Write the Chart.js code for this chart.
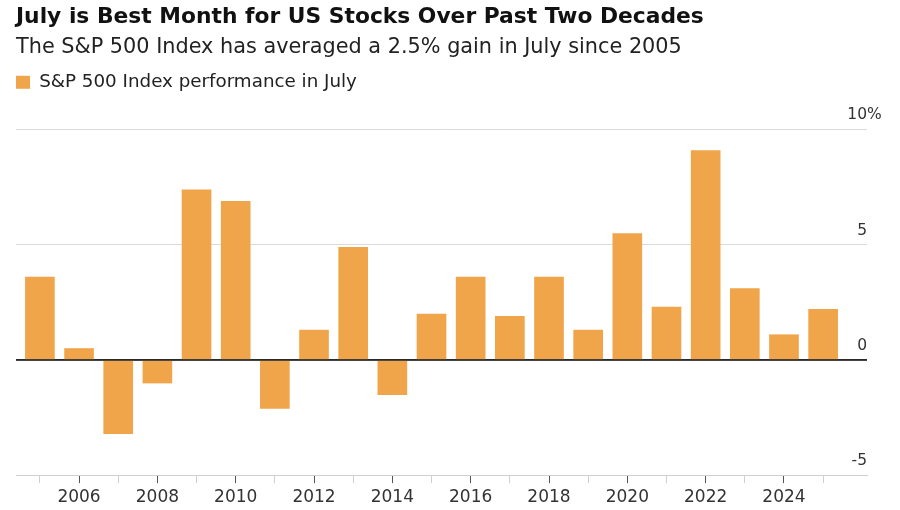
<!DOCTYPE html>
<html>
<head>
<meta charset="utf-8">
<script src="https://cdn.jsdelivr.net/npm/chart.js@4.4.1/dist/chart.umd.min.js"></script>
<style>
  html, body { margin: 0; padding: 0; background: #ffffff; }
  #wrap { width: 900px; height: 510px; position: relative; }
</style>
</head>
<body>
<div id="wrap"><canvas id="chart"></canvas></div>
<script>
// ---- Data ----
const years = [2005, 2006, 2007, 2008, 2009, 2010, 2011, 2012, 2013, 2014, 2015,
               2016, 2017, 2018, 2019, 2020, 2021, 2022, 2023, 2024, 2025];
const julyReturns = [3.6, 0.5, -3.2, -1.0, 7.4, 6.9, -2.1, 1.3, 4.9, -1.5, 2.0,
                     3.6, 1.9, 3.6, 1.3, 5.5, 2.3, 9.1, 3.1, 1.1, 2.2];
const xTickLabels = ['2006', '2008', '2010', '2012', '2014', '2016', '2018', '2020', '2022', '2024'];
const yTickValues = [-5, 0, 5, 10];
const yTickLabels = ['-5', '0', '5', '10%'];

const titleText = 'July is Best Month for US Stocks Over Past Two Decades';
const subtitleText = 'The S&P 500 Index has averaged a 2.5% gain in July since 2005';
const seriesName = 'S&P 500 Index performance in July';

const BAR_COLOR = '#F1A54A';
const FONT = '"DejaVu Sans", "Liberation Sans", Arial, sans-serif';

// Extra space between legend and plot
const legendSpacer = {
  id: 'legendSpacer',
  beforeInit(chart) {
    const origFit = chart.legend.fit;
    chart.legend.fit = function () {
      origFit.call(this);
      this.height += 28.5;
    };
  }
};

// Y tick labels sit above their gridlines, numbers right-aligned to plot edge
const yLabelPlugin = {
  id: 'yLabels',
  afterDraw(chart) {
    const { ctx, chartArea, scales } = chart;
    const y = scales.y;
    ctx.save();
    ctx.font = '15.5px ' + FONT;
    ctx.fillStyle = '#333333';
    ctx.textBaseline = 'middle';
    ctx.textAlign = 'left';
    yTickValues.forEach((v, i) => {
      const label = yTickLabels[i];
      const numPart = label.replace('%', '');
      const w = ctx.measureText(numPart).width;
      const py = y.getPixelForValue(v) - 14.5;
      ctx.fillText(label, chartArea.right - w, py);
    });
    ctx.restore();
  }
};

// Zero line on top of the bars
const zeroLine = {
  id: 'zeroLine',
  afterDatasetsDraw(chart) {
    const { ctx, chartArea, scales } = chart;
    const py = scales.y.getPixelForValue(0);
    ctx.save();
    ctx.strokeStyle = '#2b2b2b';
    ctx.lineWidth = 1.5;
    ctx.beginPath();
    ctx.moveTo(chartArea.left, py);
    ctx.lineTo(chartArea.right, py);
    ctx.stroke();
    ctx.restore();
  }
};

new Chart(document.getElementById('chart'), {
  type: 'bar',
  data: {
    datasets: [{
      label: seriesName,
      data: years.map((yr, i) => ({ x: yr, y: julyReturns[i] })),
      backgroundColor: BAR_COLOR,
      borderWidth: 0,
      barThickness: 29
    }]
  },
  options: {
    responsive: true,
    maintainAspectRatio: false,
    devicePixelRatio: 1,
    animation: false,
    layout: { padding: { left: 16, right: 33, top: 0, bottom: -1.5 } },
    plugins: {
      title: {
        display: true,
        text: titleText,
        align: 'start',
        color: '#111111',
        font: { family: FONT, size: 21.8, weight: 'bold', lineHeight: 1.2 },
        padding: { top: 4, bottom: 5 }
      },
      subtitle: {
        display: true,
        text: subtitleText,
        align: 'start',
        color: '#222222',
        font: { family: FONT, size: 20.8, weight: 'normal', lineHeight: 1.2 },
        padding: { top: 0, bottom: 13 }
      },
      legend: {
        display: true,
        position: 'top',
        align: 'start',
        labels: {
          boxWidth: 14,
          boxHeight: 13,
          padding: 0,
          color: '#222222',
          font: { family: FONT, size: 18.3 }
        }
      },
      tooltip: { enabled: false }
    },
    scales: {
      x: {
        type: 'linear',
        offset: false,
        min: 2004.39,
        max: 2026.12,
        afterBuildTicks(scale) {
          scale.ticks = years.map(v => ({ value: v }));
        },
        ticks: {
          autoSkip: false,
          maxRotation: 0,
          padding: 4,
          color: '#333333',
          font: { family: FONT, size: 17 },
          callback(value) {
            const s = String(value);
            return xTickLabels.includes(s) ? s : '';
          }
        },
        grid: {
          display: true,
          offset: false,
          drawOnChartArea: false,
          drawTicks: true,
          tickLength: 8,
          tickColor(ctx) {
            return ctx.tick && xTickLabels.includes(String(ctx.tick.value)) ? '#555555' : '#cfcfcf';
          }
        },
        border: { display: true, color: '#d0d0d0', width: 1 }
      },
      y: {
        position: 'right',
        min: -5,
        max: 10,
        ticks: { display: false, stepSize: 5 },
        afterBuildTicks(scale) {
          scale.ticks = yTickValues.map(v => ({ value: v }));
        },
        grid: {
          drawTicks: false,
          color(ctx) {
            return ctx.tick && ctx.tick.value === 0 ? '#2b2b2b' : '#dadada';
          },
          lineWidth(ctx) {
            return ctx.tick && ctx.tick.value === 0 ? 1.5 : 1;
          }
        },
        border: { display: false }
      }
    }
  },
  plugins: [legendSpacer, yLabelPlugin, zeroLine]
});
</script>
</body>
</html>
